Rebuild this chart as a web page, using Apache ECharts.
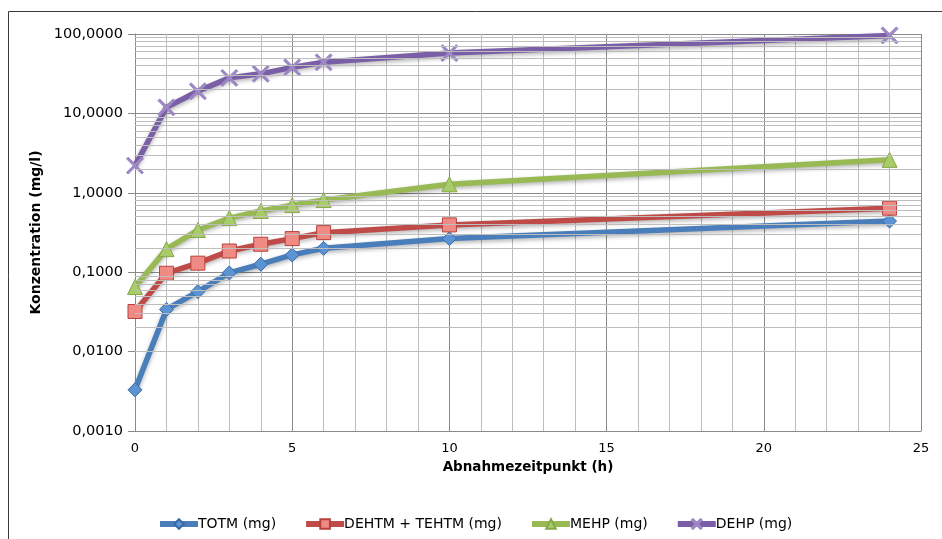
<!DOCTYPE html>
<html>
<head>
<meta charset="utf-8">
<script src="https://cdn.jsdelivr.net/npm/echarts@6/dist/echarts.min.js"></script>
<style>
html,body{margin:0;padding:0;background:#fff;}
#c{width:942px;height:539px;}
</style>
</head>
<body>
<div id="c"></div>
<script>
// ---- data ----
const hours = [0, 1, 2, 3, 4, 5, 6, 10, 24];
const totm  = [0.0033, 0.034, 0.057, 0.098, 0.126, 0.165, 0.20, 0.265, 0.44];
const dehtm = [0.032, 0.097, 0.13, 0.185, 0.225, 0.265, 0.315, 0.394, 0.64];
const mehp  = [0.065, 0.195, 0.34, 0.48, 0.59, 0.70, 0.81, 1.28, 2.6];
const dehp  = [2.2, 11.9, 19, 28, 31.5, 38, 44, 57.5, 96];
const seriesNames = ['TOTM (mg)', 'DEHTM + TEHTM (mg)', 'MEHP (mg)', 'DEHP (mg)'];
const xTitle = 'Abnahmezeitpunkt (h)';
const yTitle = 'Konzentration (mg/l)';

const FONT = 'DejaVu Sans';
const pair = (ys) => hours.map((h, i) => [h, ys[i]]);

// log minor grid lines (2..9 per decade)
const minorLines = [];
for (let k = -3; k <= 1; k++) {
  for (let m = 2; m <= 9; m++) minorLines.push({ yAxis: +(m * Math.pow(10, k)).toPrecision(6) });
}

const shadow = { shadowColor: 'rgba(0,0,0,0.3)', shadowBlur: 4, shadowOffsetY: 2 };
const xPath = 'path://M2,0 L10,8 L18,0 L20,2 L12,10 L20,18 L18,20 L10,12 L2,20 L0,18 L8,10 L0,2 Z';

function mk(name, data, color, symbol, size, fill, border) {
  return {
    name: name, type: 'line', data: pair(data), z: 3,
    symbol: symbol, symbolSize: size, showSymbol: true,
    lineStyle: Object.assign({ color: color, width: 5.5 }, shadow),
    itemStyle: { color: fill, borderColor: border, borderWidth: 1 },
    emphasis: { disabled: true }
  };
}

const chart = echarts.init(document.getElementById('c'), null, { renderer: 'canvas' });
chart.setOption({
  animation: false,
  backgroundColor: '#ffffff',
  textStyle: { fontFamily: FONT },
  graphic: [{
    type: 'rect', left: 6, top: 9, silent: true, z: 0,
    shape: { width: 2000, height: 2000 },
    style: { fill: 'none', stroke: '#3a3a3a', lineWidth: 1 }
  }],
  grid: { left: 135, right: 21, top: 34, bottom: 108, containLabel: false },
  legend: {
    data: seriesNames,
    left: 152, top: 512,
    itemWidth: 38, itemHeight: 12, itemGap: 27,
    lineStyle: { width: 6 },
    textStyle: { fontFamily: FONT, fontSize: 14, color: '#000', padding: [0, 0, 0, -5] }
  },
  xAxis: {
    type: 'value', min: 0, max: 25, interval: 5,
    name: xTitle, nameLocation: 'middle', nameGap: 29,
    nameTextStyle: { fontFamily: FONT, fontSize: 13.5, fontWeight: 'bold', color: '#000' },
    axisLine: { show: true, lineStyle: { color: '#8a8a8a', width: 1 } },
    axisTick: { show: false },
    axisLabel: { fontFamily: FONT, fontSize: 13, color: '#000', margin: 11 },
    splitLine: { show: true, lineStyle: { color: '#8a8a8a', width: 1 } },
    minorTick: { show: false, splitNumber: 5 },
    minorSplitLine: { show: true, lineStyle: { color: '#bdbdbd', width: 1 } }
  },
  yAxis: {
    type: 'log', logBase: 10, min: 0.001, max: 100, interval: 1,
    name: yTitle, nameLocation: 'middle', nameGap: 86, nameRotate: 90,
    nameTextStyle: { fontFamily: FONT, fontSize: 14, fontWeight: 'bold', color: '#000' },
    axisLine: { show: true, lineStyle: { color: '#8a8a8a', width: 1 } },
    axisTick: { show: true, length: 7, lineStyle: { color: '#8a8a8a' } },
    axisLabel: {
      fontFamily: FONT, fontSize: 14.5, color: '#000', margin: 12,
      formatter: (v) => Number(v).toFixed(4).replace('.', ',')
    },
    splitLine: { show: true, lineStyle: { color: '#8a8a8a', width: 1 } }
  },
  series: [
    {
      name: 'grid-minor', type: 'line', data: [], z: 1, silent: true,
      markLine: {
        silent: true, symbol: ['none', 'none'], label: { show: false },
        lineStyle: { color: '#bdbdbd', width: 1, type: 'solid' },
        emphasis: { disabled: true },
        data: minorLines
      }
    },
    mk(seriesNames[0], totm, '#4a7ebb', 'diamond', 14, '#5b93d3', '#3a6aa5'),
    mk(seriesNames[1], dehtm, '#be4b48', 'rect', 14, '#ef8a85', '#b8403d'),
    mk(seriesNames[2], mehp, '#98b954', 'triangle', 15, '#a8cc68', '#86a848'),
    mk(seriesNames[3], dehp, '#7a5ea6', xPath, 17, '#9c88c4', '#9c88c4')
  ]
});
</script>
</body>
</html>
